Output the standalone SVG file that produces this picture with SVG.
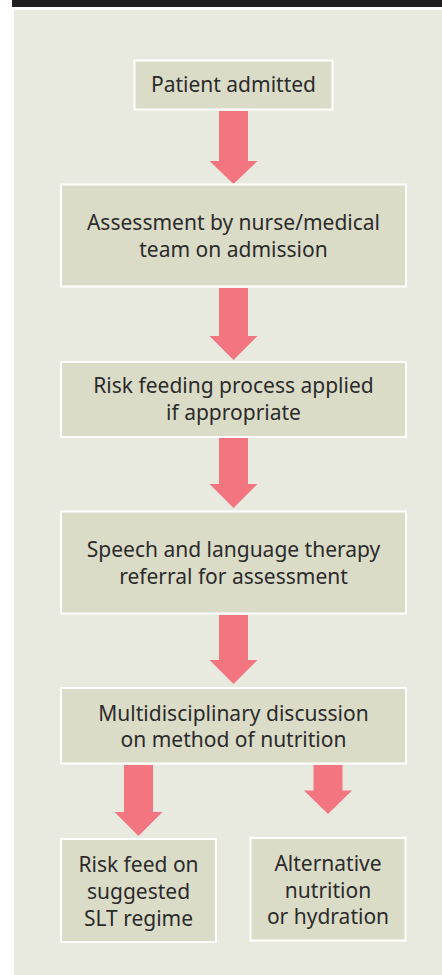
<svg xmlns="http://www.w3.org/2000/svg" width="442" height="975" viewBox="0 0 442 975">
<style>
.box{fill:#dbdcc7;stroke:#ffffff;stroke-width:2}
.arr{fill:#f27580}
.t{font-family:"Noto Sans","Open Sans",sans-serif;font-size:21px;fill:#2b2b2b;text-anchor:middle}
</style>
<rect x="0" y="0" width="442" height="975" fill="#ffffff"/>
<rect x="12" y="0" width="430" height="7" fill="#231f20"/>
<rect x="14" y="10" width="428" height="965" fill="#e9eadf"/>
<g id="connectors">
<polygon class="arr" points="219,111 248,111 248,161 257.5,161 233.5,184 209.5,161 219,161"/>
<polygon class="arr" points="219,288 248,288 248,336 257.5,336 233.5,360 209.5,336 219,336"/>
<polygon class="arr" points="219,438 248,438 248,484 257.5,484 233.5,508 209.5,484 219,484"/>
<polygon class="arr" points="219,615 248,615 248,660 257.5,660 233.5,684 209.5,660 219,660"/>
<polygon class="arr" points="124,765 153,765 153,812 162.5,812 138.5,836 114.5,812 124,812"/>
<polygon class="arr" points="313.5,765 342.5,765 342.5,790.5 352,790.5 328,814 304,790.5 313.5,790.5"/>
</g>
<g id="n1"><rect class="box" x="134.5" y="60.5" width="198" height="49"/><text class="t" x="233.5" y="92">Patient admitted</text></g>
<g id="n2"><rect class="box" x="61" y="184.5" width="345" height="102"/><text class="t" x="233.5" y="230">Assessment by nurse/medical</text><text class="t" x="233.5" y="257">team on admission</text></g>
<g id="n3"><rect class="box" x="61" y="362" width="345" height="75"/><text class="t" x="233.5" y="393">Risk feeding process applied</text><text class="t" x="233.5" y="420">if appropriate</text></g>
<g id="n4"><rect class="box" x="61" y="511.5" width="345" height="102"/><text class="t" x="233.5" y="557">Speech and language therapy</text><text class="t" x="233.5" y="584">referral for assessment</text></g>
<g id="n5"><rect class="box" x="61" y="688" width="345" height="75.5"/><text class="t" x="233.5" y="720.5">Multidisciplinary discussion</text><text class="t" x="233.5" y="746.5">on method of nutrition</text></g>
<g id="n6"><rect class="box" x="61" y="839" width="155" height="103"/><text class="t" x="138.5" y="872">Risk feed on</text><text class="t" x="138.5" y="899">suggested</text><text class="t" x="138.5" y="925.5">SLT regime</text></g>
<g id="n7"><rect class="box" x="250.5" y="838" width="155" height="102.5"/><text class="t" x="328" y="871">Alternative</text><text class="t" x="328" y="897.5">nutrition</text><text class="t" x="328" y="924">or hydration</text></g>
</svg>
